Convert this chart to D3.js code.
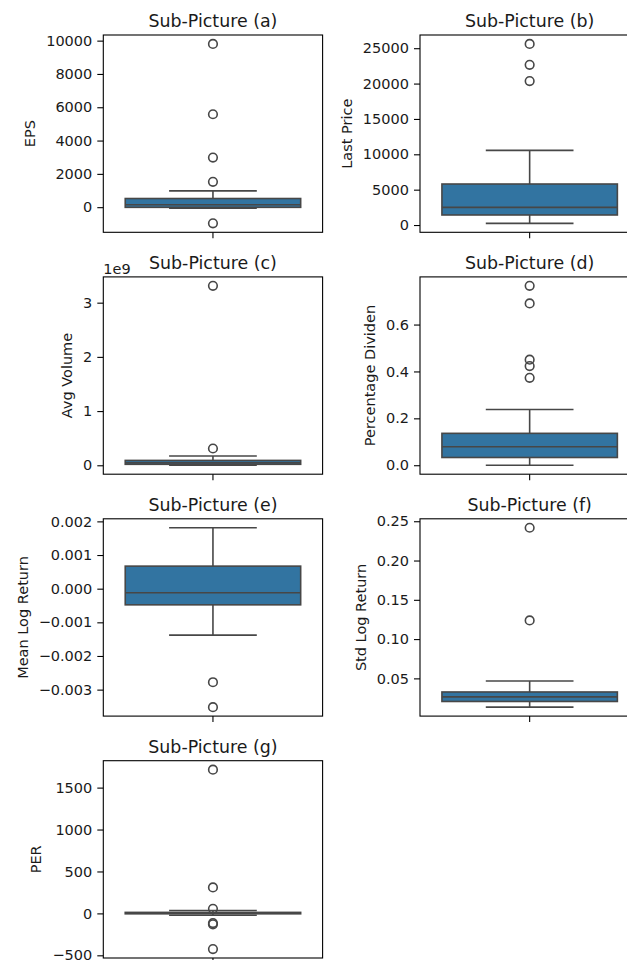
<!DOCTYPE html>
<html>
<head>
<meta charset="utf-8">
<script src="https://cdn.jsdelivr.net/npm/d3@7"></script>
<style>
  body { margin: 0; background: #fff; }
  svg text { font-family: "DejaVu Sans", sans-serif; fill: #1a1a1a; }
</style>
</head>
<body>
<svg id="chart" width="627" height="960"></svg>
<script>
// ---- data ----
const panelTags   = ["(a)", "(b)", "(c)", "(d)", "(e)", "(f)", "(g)"];
const yLabels     = ["EPS", "Last Price", "Avg Volume", "Percentage Dividen", "Mean Log Return", "Std Log Return", "PER"];
const q1Values    = [-10, 1420, 1.8e7, 0.033, -0.00048, 0.0206, -5];
const medianValues= [150, 2500, 4.5e7, 0.079, -0.00012, 0.0264, 5];
const q3Values    = [520, 5800, 9.0e7, 0.136, 0.00067, 0.0327, 12];
const whiskerLow  = [-60, 240, 1e6, 0.0, -0.00138, 0.0134, -22];
const whiskerHigh = [980, 10550, 1.7e8, 0.238, 0.00181, 0.0466, 35];
const outliers    = [
  [9800, 5580, 2980, 1520, -970],
  [25600, 22650, 20350],
  [3.31e9, 3.1e8],
  [0.765, 0.69, 0.45, 0.423, 0.373],
  [-0.00278, -0.00352],
  [0.2417, 0.1237],
  [1714, 310, 55, -115, -130, -425]
];
const tickValues  = [
  [0, 2000, 4000, 6000, 8000, 10000],
  [0, 5000, 10000, 15000, 20000, 25000],
  [0, 1e9, 2e9, 3e9],
  [0, 0.2, 0.4, 0.6],
  [-0.003, -0.002, -0.001, 0, 0.001, 0.002],
  [0.05, 0.10, 0.15, 0.20, 0.25],
  [-500, 0, 500, 1000, 1500]
];
const tickFormats = ["d", "d", "d", ".1f", ".3f", ".2f", "d"];
const tickScale   = [1, 1, 1e9, 1, 1, 1, 1];
const offsetTexts = ["", "", "1e9", "", "", "", ""];

// ---- layout ----
const colX = [103.3, 420];
const axW = 219.3, axH = 197.3;
const rowY0 = 35, rowStep = 241.9;
const boxColor = "#3274a1";
const lineColor = "#474747";
const lw = 1.6;

const svg = d3.select("#chart");

panelTags.forEach((tag, i) => {
  const col = i % 2, row = Math.floor(i / 2);
  const x0 = colX[col], y0 = rowY0 + row * rowStep;
  const g = svg.append("g").attr("transform", `translate(${x0},${y0})`);

  const allVals = [whiskerLow[i], whiskerHigh[i], ...outliers[i]];
  const lo = d3.min(allVals), hi = d3.max(allVals);
  const pad = (hi - lo) * 0.05;
  const y = d3.scaleLinear().domain([lo - pad, hi + pad]).range([axH, 0]);
  const x = d3.scaleBand().domain([yLabels[i]]).range([0, axW]).paddingInner(0).paddingOuter(0);
  const bw = x.bandwidth() * 0.8;
  const cx = x(yLabels[i]) + x.bandwidth() / 2;

  // whiskers
  g.append("line").attr("x1", cx).attr("x2", cx)
    .attr("y1", y(q1Values[i])).attr("y2", y(whiskerLow[i]))
    .attr("stroke", lineColor).attr("stroke-width", lw);
  g.append("line").attr("x1", cx).attr("x2", cx)
    .attr("y1", y(q3Values[i])).attr("y2", y(whiskerHigh[i]))
    .attr("stroke", lineColor).attr("stroke-width", lw);
  // caps
  [whiskerLow[i], whiskerHigh[i]].forEach(v => {
    g.append("line").attr("x1", cx - bw / 4).attr("x2", cx + bw / 4)
      .attr("y1", y(v)).attr("y2", y(v))
      .attr("stroke", lineColor).attr("stroke-width", lw);
  });
  // box
  g.append("rect")
    .attr("x", cx - bw / 2).attr("width", bw)
    .attr("y", y(q3Values[i])).attr("height", Math.max(0, y(q1Values[i]) - y(q3Values[i])))
    .attr("fill", boxColor).attr("stroke", lineColor).attr("stroke-width", lw);
  // median
  g.append("line").attr("x1", cx - bw / 2).attr("x2", cx + bw / 2)
    .attr("y1", y(medianValues[i])).attr("y2", y(medianValues[i]))
    .attr("stroke", lineColor).attr("stroke-width", lw);
  // fliers
  g.selectAll("circle.flier").data(outliers[i]).join("circle")
    .attr("class", "flier")
    .attr("cx", cx).attr("cy", d => y(d)).attr("r", 4.3)
    .attr("fill", "none").attr("stroke", lineColor).attr("stroke-width", lw);

  // y axis
  const fmt = d3.format(tickFormats[i]);
  const yAxis = d3.axisLeft(y).tickValues(tickValues[i])
    .tickFormat(d => fmt(d / tickScale[i])).tickSize(6).tickPadding(5);
  const ag = g.append("g").call(yAxis);
  ag.select(".domain").remove();
  ag.selectAll(".tick line").attr("stroke", "#000").attr("stroke-width", 1.1);
  ag.selectAll(".tick text").attr("font-size", "14.5px").attr("fill", "#1a1a1a")
    .style("font-family", '"DejaVu Sans", sans-serif');

  // x axis (single tick, no label)
  const xAxis = d3.axisBottom(x).tickSize(6).tickFormat("");
  const xg = g.append("g").attr("transform", `translate(0,${axH})`).call(xAxis);
  xg.select(".domain").remove();
  xg.selectAll(".tick line").attr("stroke", "#000").attr("stroke-width", 1.1);

  // frame
  g.append("rect").attr("x", 0).attr("y", 0).attr("width", axW).attr("height", axH)
    .attr("fill", "none").attr("stroke", "#000").attr("stroke-width", 1.1);

  // y label
  const bb = ag.node().getBBox();
  g.append("text")
    .attr("transform", `translate(${bb.x - 11},${axH / 2}) rotate(-90)`)
    .attr("text-anchor", "middle")
    .attr("font-size", "14.5px")
    .text(yLabels[i]);

  // title
  g.append("text")
    .attr("x", axW / 2).attr("y", -8)
    .attr("text-anchor", "middle")
    .attr("font-size", "17.4px")
    .text("Sub-Picture " + tag);

  // offset text
  if (offsetTexts[i]) {
    g.append("text").attr("x", 0).attr("y", -3)
      .attr("font-size", "14.5px").text(offsetTexts[i]);
  }
});
</script>
</body>
</html>
